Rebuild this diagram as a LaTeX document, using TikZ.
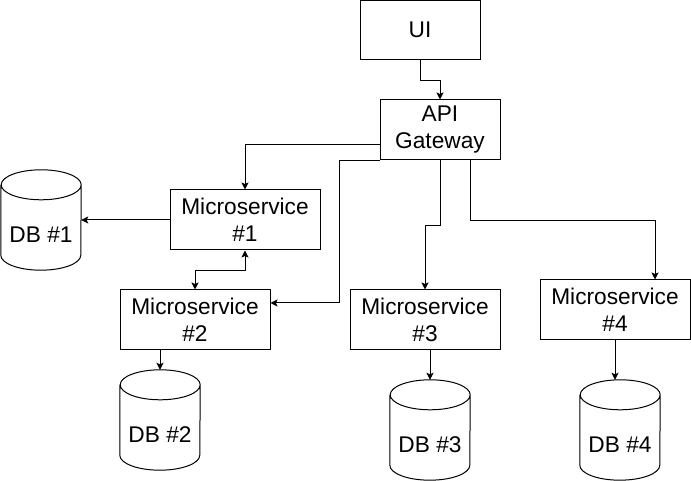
\documentclass[tikz,border=0pt]{standalone}
\usepackage{fontspec}
\setmainfont{Liberation Sans}
\usetikzlibrary{arrows.meta}
\newcommand\dbcyl[1]{\draw[dbline] ([yshift=-15pt]#1.north west) -- ([yshift=15pt]#1.south west) arc[start angle=180,end angle=360,x radius=40pt,y radius=15pt] -- ([yshift=-15pt]#1.north east) arc[start angle=0,end angle=180,x radius=40pt,y radius=15pt] arc[start angle=180,end angle=360,x radius=40pt,y radius=15pt];}
\begin{document}
\begin{tikzpicture}[x=1pt,y=1pt,
  every node/.style={font=\fontsize{22.7pt}{27pt}\selectfont},
  box/.style={draw, line width=1pt, fill=white, align=center, inner sep=0pt, minimum width=150pt, minimum height=60pt},
  dbbox/.style={inner sep=0pt, minimum width=80pt, minimum height=100pt},
  dbtext/.style={inner sep=0pt},
  dbline/.style={line width=1pt, fill=white},
  arr/.style={line width=1pt, -{Stealth[length=7pt,width=7pt,inset=1.5pt]}},
  darr/.style={line width=1pt, {Stealth[length=7pt,width=7pt,inset=1.5pt]}-{Stealth[length=7pt,width=7pt,inset=1.5pt]}}]
\useasboundingbox (0,0) rectangle (691,481);
% boxes
\node[box, minimum width=120pt, minimum height=59.5pt] (ui) at (420,451) {UI};
\node[box, minimum width=120pt] (api) at (440,351) {API\\Gateway};
\node[box] (ms1) at (245,261) {Microservice\\\#1};
\node[box] (ms2) at (195,161) {Microservice\\\#2};
\node[box] (ms3) at (425,161) {Microservice\\\#3};
\node[box] (ms4) at (615,171) {Microservice\\\#4};
% databases
\node[dbbox] (db1) at (41,261) {};
\node[dbbox] (db2) at (160,61) {};
\node[dbbox] (db3) at (430,51) {};
\node[dbbox] (db4) at (620,51) {};
\dbcyl{db1}
\dbcyl{db2}
\dbcyl{db3}
\dbcyl{db4}
\node[dbtext] (db1t) at ([yshift=-15pt]db1.center) {DB \#1};
\node[dbtext] (db2t) at ([yshift=-15pt]db2.center) {DB \#2};
\node[dbtext] (db3t) at ([yshift=-15pt]db3.center) {DB \#3};
\node[dbtext] (db4t) at ([yshift=-15pt]db4.center) {DB \#4};
% connectors
\draw[arr] (ui.south) -- ++(0,-20) -| (api.north);
\draw[arr] ([yshift=-15pt]api.west) -| (ms1.north);
\draw[arr] (api.south west) -- ++(-40,0) |- ([yshift=17pt]ms2.east);
\draw[darr] (ms1.south) -- ++(0,-20) -| (ms2.north);
\draw[arr] (api.south) -- ++(0,-65) -| (ms3.north);
\draw[arr] ([xshift=30pt]api.south) -- ++(0,-60) -| ([xshift=40pt]ms4.north);
\draw[arr] (ms1.west) -- (db1.east);
\draw[arr] ([xshift=-35pt]ms2.south) -- (db2.north);
\draw[arr] ([xshift=5pt]ms3.south) -- (db3.north);
\draw[arr] (ms4.south) -- (ms4.south |- db4.north);
\end{tikzpicture}
\end{document}
